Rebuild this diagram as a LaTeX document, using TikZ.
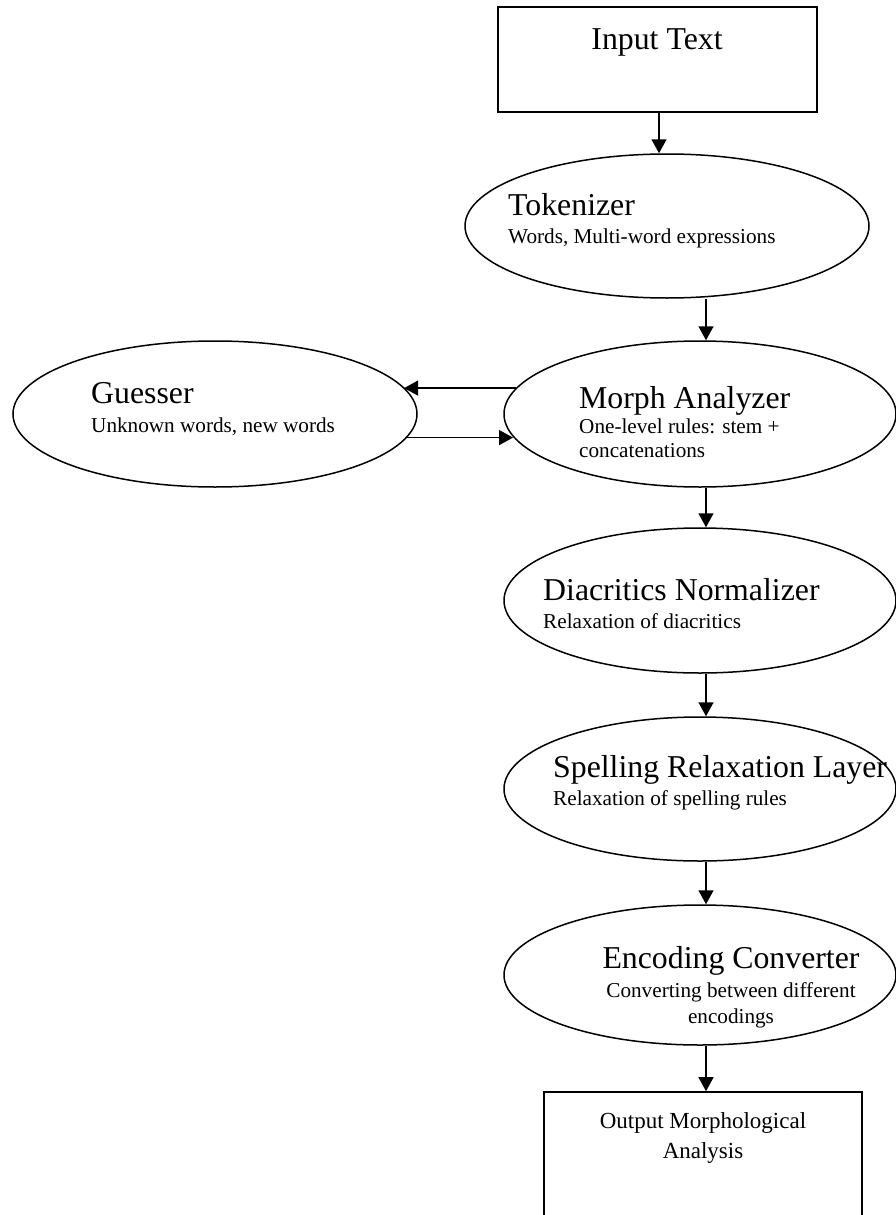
\documentclass[tikz,border=0pt]{standalone}
\usepackage{fontspec}
\setmainfont{Liberation Serif}
\usetikzlibrary{shapes.geometric,arrows.meta}
\begin{document}
\begin{tikzpicture}[x=1pt,y=-1pt,
  box/.style={draw,line width=1.6pt,inner sep=0pt},
  oval/.style={draw,ellipse,line width=1.5pt,inner sep=0pt},
  big/.style={font=\fontsize{31.8}{36}\selectfont,inner sep=0pt},
  small/.style={font=\fontsize{21.2}{25}\selectfont,inner sep=0pt},
  mid/.style={font=\fontsize{23}{27}\selectfont,inner sep=0pt},
  arr/.style={line width=1.5pt,-{Triangle[length=14pt,width=15pt]}}]
\useasboundingbox (0,0) rectangle (895,1215);
% shapes
\node[box,minimum width=319pt,minimum height=105pt] (input) at (657.5,59.5) {};
\node[oval,minimum width=404pt,minimum height=144pt] (tok) at (667,226) {};
\node[oval,minimum width=404pt,minimum height=146pt] (guess) at (215,414) {};
\node[oval,minimum width=392pt,minimum height=146pt] (morph) at (700,414) {};
\node[oval,minimum width=392pt,minimum height=145pt] (diac) at (700,600.5) {};
\node[oval,minimum width=392pt,minimum height=144pt] (spell) at (700,789) {};
\node[oval,minimum width=392pt,minimum height=140pt] (enc) at (700,975) {};
\node[box,minimum width=318pt,minimum height=140pt] (out) at (703,1162) {};
% texts
\node[big,anchor=base] (inputT) at (657,50) {Input Text};
\node[big,anchor=base west] (tokT) at (508,215) {Tokenizer};
\node[small,anchor=base west] (tokS) at (508,243) {Words, Multi-word expressions};
\node[big,anchor=base west] (guessT) at (91,403) {Guesser};
\node[small,anchor=base west] (guessS) at (91,432) {Unknown words, new words};
\node[big,anchor=base west] (morphT) at (579,408) {Morph Analyzer};
\node[small,anchor=base west] (morphS1) at (579,433) {One-level rules: stem +};
\node[small,anchor=base west] (morphS2) at (579,457) {concatenations};
\node[big,anchor=base west] (diacT) at (543,600) {Diacritics Normalizer};
\node[small,anchor=base west] (diacS) at (543,628) {Relaxation of diacritics};
\node[big,anchor=base west] (spellT) at (553,777) {Spelling Relaxation Layer};
\node[small,anchor=base west] (spellS) at (553,805) {Relaxation of spelling rules};
\node[big,anchor=base] (encT) at (731,968) {Encoding Converter};
\node[small,anchor=base] (encS1) at (731,997) {Converting between different};
\node[small,anchor=base] (encS2) at (731,1023) {encodings};
\node[mid,anchor=base] (outT1) at (703,1128) {Output Morphological};
\node[mid,anchor=base] (outT2) at (703,1158) {Analysis};
% connectors
\coordinate (a0) at (659,0);
\coordinate (ax) at (706,0);
\draw[arr] (input.south -| a0) -- (tok.north -| a0);
\draw[arr] (tok.south -| ax) -- (morph.north -| ax);
\draw[arr] (morph.south -| ax) -- (diac.north -| ax);
\draw[arr] (diac.south -| ax) -- (spell.north -| ax);
\draw[arr] (spell.south -| ax) -- (enc.north -| ax);
\draw[arr] (enc.south -| ax) -- (out.north -| ax);
\draw[arr] (morph.172) -- (morph.172 -| guess.8);
\draw[arr] (guess.353) -- (guess.353 -| morph.187);
\end{tikzpicture}
\end{document}
